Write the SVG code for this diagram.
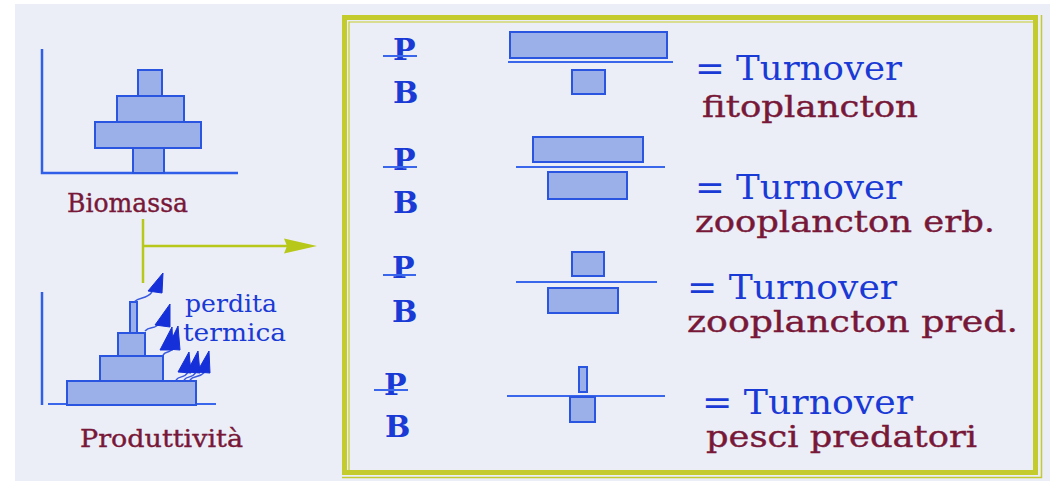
<svg xmlns="http://www.w3.org/2000/svg" width="1057" height="488" viewBox="0 0 1057 488">
<defs>
<style>
.bg{fill:#eceef7}
.bar{fill:#9bb0e8;stroke:#2a55e0;stroke-width:2}
.ax{stroke:#2f5ee8;stroke-width:2.5;fill:none}
.ln{stroke:#3a66ec;stroke-width:2;fill:none}
text{font-family:'DejaVu Serif','Liberation Serif',serif}
.blue{fill:#1a3ad6}
.mar{fill:#781838;stroke:#781838;stroke-width:0.4}
.pb{fill:#1a3ad6;font-weight:bold;font-size:30px}
.frame{fill:none;stroke:#c3cc2c}
.heat{fill:#1530d8;stroke:#1530d8;stroke-width:1}
.stem{fill:none;stroke:#3a5ae0;stroke-width:1.5}
</style>
</defs>
<rect width="1057" height="488" fill="#ffffff"/>
<rect class="bg" x="15" y="4" width="1035" height="477"/>

<g id="biomassa">
<polyline class="ax" points="42,49 42,173 238,173"/>
<rect class="bar" x="133" y="148" width="31" height="25"/>
<rect class="bar" x="95" y="122" width="106" height="26"/>
<rect class="bar" x="117" y="96" width="67" height="26"/>
<rect class="bar" x="138" y="70" width="24" height="26"/>
<text class="mar" x="67" y="212" font-size="26" textLength="121" lengthAdjust="spacingAndGlyphs">Biomassa</text>
</g>

<g id="produttivita">
<line class="ax" x1="42" y1="292" x2="42" y2="405"/>
<line class="ln" x1="48" y1="404" x2="216" y2="404"/>
<rect class="bar" x="67" y="381" width="129" height="24"/>
<rect class="bar" x="100" y="356" width="63" height="25"/>
<rect class="bar" x="118" y="333" width="27" height="23"/>
<rect class="bar" x="130" y="302" width="7" height="31" stroke-width="1.5"/>
<text class="mar" x="80" y="447" font-size="25" textLength="163" lengthAdjust="spacingAndGlyphs">Produttività</text>
</g>

<g id="perdita-termica">
<path class="stem" d="M134,302 C140,296 146,300 152,292"/>
<path class="heat" d="M163,273 L148,291 L162,293 Z"/>
<path class="stem" d="M145,331 C150,325 155,331 160,322"/>
<path class="heat" d="M170,304 L155,325 L170,327 Z"/>
<path class="stem" d="M163,355 C166,350 170,354 173,348"/>
<path class="heat" d="M172,327 L160,350 L173,350 Z"/>
<path class="heat" d="M178,326 L167,349 L180,350 Z"/>
<path class="stem" d="M176,380 C180,375 184,379 188,372"/>
<path class="stem" d="M184,380 C188,375 192,379 196,372"/>
<path class="stem" d="M190,380 C194,375 198,379 205,372"/>
<path class="heat" d="M189,352 L178,372 L191,373 Z"/>
<path class="heat" d="M198,351 L187,372 L200,373 Z"/>
<path class="heat" d="M209,351 L197,372 L210,373 Z"/>
<text class="blue" x="185" y="312" font-size="25" textLength="92" lengthAdjust="spacingAndGlyphs">perdita</text>
<text class="blue" x="183" y="341" font-size="25" textLength="103" lengthAdjust="spacingAndGlyphs">termica</text>
</g>

<g id="connectors">
<path d="M143,219 L143,283 M143,246 L290,246" fill="none" stroke="#b8c81a" stroke-width="2.5"/>
<path d="M317,246 L284,238.5 L287,246 L284,253.5 Z" fill="#b8c81a"/>
</g>

<g id="turnover-box">
<rect class="frame" x="344.5" y="17.5" width="691" height="455" stroke-width="5"/>
<path class="frame" d="M349,475 L349,22 L1033,22" stroke-width="1.2"/>
<path class="frame" d="M342,477.5 L1041.5,477.5 L1041.5,15" stroke-width="1.5"/>
</g>

<g id="row-fitoplancton">
<text class="pb" x="393" y="60">P</text>
<line class="ln" x1="383" y1="56" x2="417" y2="56"/>
<text class="pb" x="393" y="103">B</text>
<rect class="bar" x="510" y="32" width="157" height="26"/>
<line class="ln" x1="508" y1="62" x2="673" y2="62"/>
<rect class="bar" x="572" y="70" width="33" height="24"/>
<text class="blue" x="695" y="80" font-size="34" textLength="207" lengthAdjust="spacingAndGlyphs">= Turnover</text>
<text class="mar" x="702" y="117" font-size="30" textLength="216" lengthAdjust="spacingAndGlyphs">fitoplancton</text>
</g>

<g id="row-zooplancton-erb">
<text class="pb" x="393" y="170">P</text>
<line class="ln" x1="383" y1="167" x2="417" y2="167"/>
<text class="pb" x="393" y="213">B</text>
<rect class="bar" x="533" y="137" width="110" height="25"/>
<line class="ln" x1="516" y1="167" x2="665" y2="167"/>
<rect class="bar" x="548" y="172" width="79" height="27"/>
<text class="blue" x="695" y="199" font-size="33" textLength="207" lengthAdjust="spacingAndGlyphs">= Turnover</text>
<text class="mar" x="695" y="232" font-size="30" textLength="300" lengthAdjust="spacingAndGlyphs">zooplancton erb.</text>
</g>

<g id="row-zooplancton-pred">
<text class="pb" x="392" y="278">P</text>
<line class="ln" x1="383" y1="275" x2="416" y2="275"/>
<text class="pb" x="392" y="322">B</text>
<rect class="bar" x="572" y="252" width="32" height="24"/>
<line class="ln" x1="516" y1="282" x2="657" y2="282"/>
<rect class="bar" x="548" y="288" width="70" height="25"/>
<text class="blue" x="687" y="299" font-size="33" textLength="210" lengthAdjust="spacingAndGlyphs">= Turnover</text>
<text class="mar" x="687" y="332" font-size="30" textLength="331" lengthAdjust="spacingAndGlyphs">zooplancton pred.</text>
</g>

<g id="row-pesci-predatori">
<text class="pb" x="384" y="395">P</text>
<line class="ln" x1="374" y1="390" x2="408" y2="390"/>
<text class="pb" x="385" y="437">B</text>
<rect class="bar" x="579" y="367" width="8" height="25" stroke-width="1.5"/>
<line class="ln" x1="507" y1="396" x2="665" y2="396"/>
<rect class="bar" x="570" y="397" width="25" height="25"/>
<text class="blue" x="702" y="414" font-size="33" textLength="211" lengthAdjust="spacingAndGlyphs">= Turnover</text>
<text class="mar" x="706" y="447" font-size="30" textLength="271" lengthAdjust="spacingAndGlyphs">pesci predatori</text>
</g>
</svg>
